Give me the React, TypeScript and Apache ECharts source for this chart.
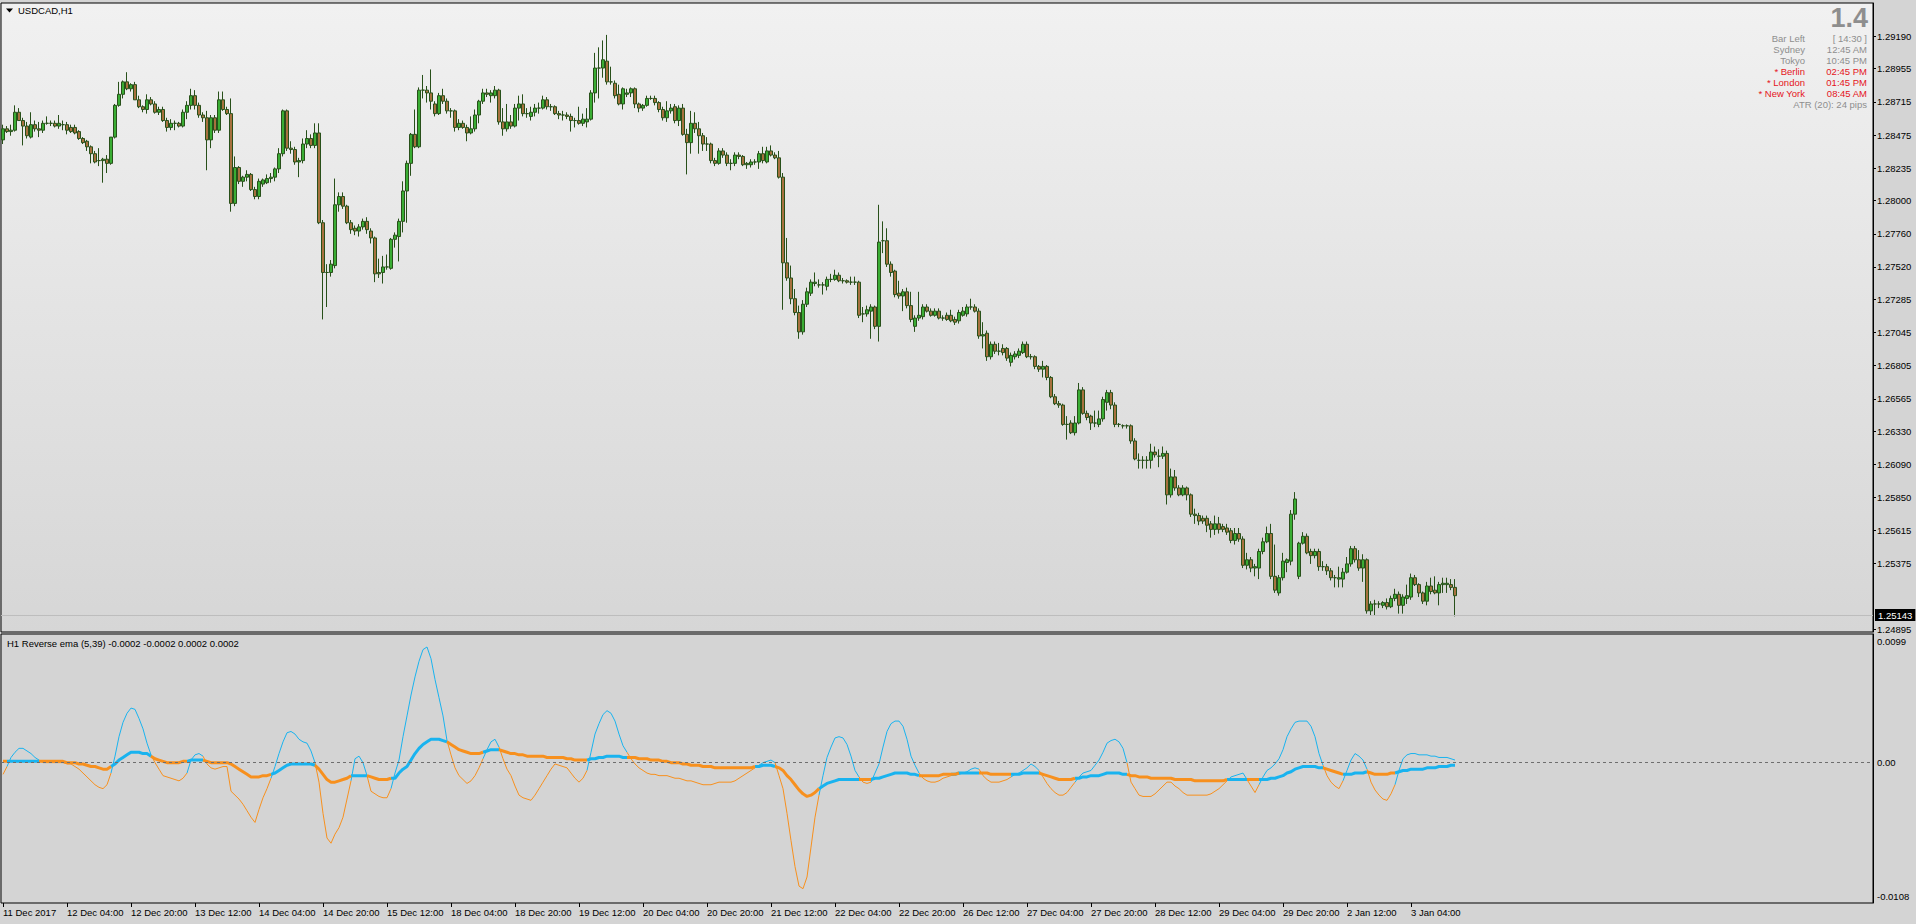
import React, { useEffect, useRef } from 'react';
import * as echarts from 'echarts';

const FONT = "'Liberation Sans', Arial, sans-serif";
const PIP = 0.0001;

// USDCAD H1 candles, prices in pips (0.0001)
const openPips = [
  12844,12852,12850,12851,12864,12858,12854,12846,12855,12852,12851,12856,12856,12856,12854,12855,12855,12853,12853,12850,
  12845,12843,12839,12834,12829,12829,12830,12827,12846,12869,12877,12886,12881,12884,12873,12868,12866,12873,12870,12864,
  12866,12858,12853,12856,12856,12854,12864,12869,12876,12869,12862,12860,12844,12860,12851,12873,12866,12863,12798,12824,
  12814,12817,12819,12808,12803,12812,12813,12816,12817,12823,12834,12865,12838,12837,12828,12829,12841,12845,12840,12849,
  12784,12748,12748,12753,12797,12803,12796,12784,12780,12778,12781,12785,12778,12773,12748,12748,12752,12751,12772,12774,
  12785,12807,12827,12848,12839,12880,12880,12878,12870,12863,12876,12872,12865,12865,12853,12856,12853,12849,12852,12862,
  12872,12878,12876,12876,12880,12857,12852,12857,12854,12867,12870,12863,12861,12864,12867,12867,12873,12868,12868,12863,
  12862,12862,12861,12858,12858,12856,12857,12859,12878,12896,12896,12901,12886,12885,12877,12870,12877,12878,12881,12870,
  12867,12869,12874,12874,12871,12866,12860,12865,12868,12858,12867,12848,12842,12856,12852,12847,12841,12841,12829,12827,
  12836,12833,12827,12827,12833,12832,12826,12826,12828,12828,12834,12828,12836,12833,12831,12817,12755,12744,12729,12719,
  12705,12725,12733,12740,12739,12739,12738,12743,12743,12746,12742,12742,12741,12741,12741,12718,12718,12720,12723,12709,
  12771,12771,12754,12749,12733,12731,12734,12724,12709,12715,12716,12723,12720,12717,12720,12715,12717,12717,12714,12713,
  12717,12718,12723,12723,12720,12702,12704,12687,12696,12691,12693,12693,12683,12687,12688,12690,12696,12687,12687,12680,
  12678,12680,12672,12658,12653,12652,12638,12639,12632,12639,12663,12646,12644,12639,12638,12642,12654,12661,12652,12638,
  12637,12637,12637,12626,12612,12612,12612,12612,12618,12615,12615,12617,12587,12600,12592,12587,12592,12587,12573,12572,
  12570,12570,12566,12562,12566,12564,12563,12561,12554,12559,12555,12536,12540,12534,12534,12546,12553,12559,12528,12516,
  12527,12538,12539,12573,12528,12552,12557,12546,12543,12546,12535,12535,12532,12527,12526,12526,12531,12537,12548,12540,
  12534,12540,12503,12508,12508,12507,12509,12506,12512,12515,12507,12512,12513,12527,12522,12516,12510,12521,12518,12516,
  12522,12522,12522,12520
];
const highPips = [
  12855,12854,12855,12869,12867,12860,12857,12864,12858,12857,12858,12861,12858,12858,12862,12858,12857,12855,12855,12851,
  12846,12844,12840,12836,12838,12831,12833,12846,12870,12886,12887,12893,12885,12886,12876,12869,12877,12875,12872,12868,
  12868,12860,12859,12858,12857,12866,12872,12881,12880,12871,12864,12865,12862,12862,12879,12879,12868,12874,12832,12825,
  12818,12822,12820,12810,12816,12816,12819,12820,12824,12838,12866,12866,12843,12839,12831,12845,12851,12848,12856,12856,
  12786,12754,12757,12816,12806,12806,12797,12786,12782,12783,12787,12788,12780,12774,12758,12760,12761,12773,12777,12787,
  12814,12829,12849,12866,12882,12891,12883,12895,12872,12878,12881,12874,12867,12866,12859,12858,12855,12861,12866,12873,
  12881,12881,12880,12883,12881,12867,12870,12862,12870,12876,12877,12867,12868,12870,12871,12876,12875,12870,12869,12865,
  12865,12864,12863,12860,12868,12863,12867,12880,12907,12911,12916,12920,12897,12887,12884,12882,12881,12882,12882,12871,
  12870,12876,12876,12876,12872,12868,12872,12870,12870,12869,12870,12852,12865,12864,12857,12849,12846,12842,12831,12838,
  12838,12835,12830,12835,12835,12833,12828,12830,12830,12836,12839,12839,12840,12835,12836,12820,12773,12753,12736,12724,
  12728,12737,12743,12748,12743,12741,12745,12747,12750,12748,12744,12743,12745,12745,12742,12723,12724,12725,12724,12797,
  12785,12780,12756,12750,12742,12736,12737,12734,12717,12734,12725,12725,12722,12722,12722,12717,12719,12721,12716,12721,
  12723,12725,12729,12725,12722,12712,12706,12698,12698,12697,12696,12694,12690,12691,12693,12698,12698,12689,12688,12681,
  12684,12681,12673,12660,12655,12653,12644,12641,12644,12668,12665,12648,12645,12648,12648,12658,12663,12663,12654,12639,
  12638,12638,12638,12628,12617,12615,12615,12624,12622,12620,12622,12619,12606,12605,12594,12594,12593,12588,12577,12574,
  12572,12572,12568,12572,12571,12566,12566,12563,12563,12563,12557,12545,12542,12537,12548,12556,12564,12566,12551,12529,
  12545,12541,12576,12589,12553,12560,12559,12548,12548,12548,12539,12537,12534,12529,12535,12534,12542,12550,12550,12547,
  12544,12541,12510,12511,12510,12510,12512,12514,12519,12517,12515,12522,12530,12529,12523,12517,12524,12527,12528,12524,
  12527,12527,12526,12526
];
const lowPips = [
  12841,12849,12847,12850,12858,12840,12845,12845,12850,12846,12849,12855,12854,12853,12852,12851,12848,12849,12848,12844,
  12841,12836,12827,12827,12825,12813,12820,12826,12845,12868,12874,12880,12879,12873,12867,12864,12863,12869,12863,12862,
  12857,12850,12851,12851,12853,12853,12859,12866,12866,12860,12857,12822,12838,12849,12849,12865,12862,12792,12796,12812,
  12810,12814,12807,12801,12801,12810,12812,12813,12814,12820,12832,12836,12834,12826,12817,12827,12838,12838,12838,12783,
  12714,12723,12745,12751,12792,12794,12783,12776,12775,12774,12779,12776,12769,12741,12744,12740,12750,12750,12766,12756,
  12777,12784,12818,12838,12838,12874,12871,12866,12861,12862,12870,12863,12860,12850,12851,12852,12843,12848,12850,12856,
  12870,12875,12871,12874,12855,12847,12850,12852,12853,12858,12861,12860,12858,12861,12863,12866,12866,12865,12862,12859,
  12858,12859,12850,12853,12855,12854,12853,12858,12871,12874,12889,12884,12884,12874,12869,12866,12875,12875,12867,12864,
  12865,12868,12873,12869,12864,12858,12857,12863,12856,12854,12847,12819,12834,12849,12834,12836,12836,12827,12825,12826,
  12831,12825,12822,12825,12830,12825,12823,12824,12826,12823,12827,12827,12832,12830,12816,12721,12742,12725,12717,12700,
  12703,12723,12731,12738,12737,12732,12735,12741,12742,12741,12740,12740,12739,12739,12715,12712,12716,12700,12707,12698,
  12762,12752,12745,12730,12729,12720,12722,12712,12705,12713,12714,12719,12716,12716,12714,12713,12713,12712,12710,12711,
  12716,12716,12721,12719,12700,12693,12684,12685,12689,12688,12688,12684,12680,12685,12686,12689,12686,12685,12678,12676,
  12672,12670,12657,12652,12650,12637,12627,12631,12630,12638,12645,12641,12634,12636,12636,12640,12648,12649,12636,12636,
  12635,12635,12624,12612,12606,12606,12606,12606,12614,12607,12613,12580,12585,12590,12586,12586,12583,12571,12566,12565,
  12566,12560,12556,12558,12559,12560,12558,12552,12551,12553,12534,12533,12531,12528,12526,12544,12552,12526,12516,12514,
  12525,12531,12536,12569,12526,12551,12544,12537,12541,12532,12532,12529,12525,12520,12520,12520,12530,12535,12538,12532,
  12524,12501,12500,12500,12505,12505,12504,12505,12510,12501,12501,12508,12511,12521,12513,12508,12507,12515,12515,12507,
  12516,12516,12518,12499
];
const closePips = [
  12852,12850,12851,12864,12858,12854,12847,12855,12852,12851,12856,12856,12856,12854,12856,12855,12851,12850,12849,12845,
  12842,12839,12834,12828,12829,12830,12827,12846,12869,12877,12886,12881,12884,12873,12868,12866,12873,12870,12864,12866,
  12858,12853,12856,12856,12854,12864,12869,12876,12869,12862,12860,12844,12860,12851,12873,12866,12863,12798,12824,12814,
  12817,12819,12808,12803,12814,12815,12816,12817,12823,12834,12865,12838,12837,12828,12829,12841,12845,12840,12849,12784,
  12748,12748,12754,12797,12803,12796,12784,12779,12778,12781,12785,12779,12773,12747,12747,12752,12752,12772,12775,12785,
  12807,12827,12848,12839,12880,12880,12878,12872,12863,12876,12872,12865,12865,12853,12856,12853,12849,12852,12862,12872,
  12878,12877,12878,12880,12857,12852,12857,12854,12867,12870,12863,12863,12864,12867,12867,12873,12868,12868,12863,12862,
  12862,12861,12858,12858,12856,12859,12859,12878,12896,12896,12902,12886,12886,12876,12870,12881,12878,12881,12870,12867,
  12869,12874,12874,12871,12866,12860,12865,12867,12858,12867,12848,12842,12856,12852,12847,12841,12841,12829,12827,12836,
  12833,12827,12827,12833,12832,12826,12827,12828,12828,12834,12829,12836,12833,12831,12817,12755,12744,12729,12719,12705,
  12725,12734,12741,12741,12739,12739,12743,12743,12746,12742,12742,12741,12741,12741,12717,12718,12721,12723,12709,12770,
  12771,12754,12748,12732,12731,12734,12724,12714,12715,12717,12723,12720,12717,12720,12715,12715,12714,12713,12712,12719,
  12720,12723,12723,12720,12702,12703,12687,12696,12691,12691,12690,12686,12688,12689,12691,12696,12687,12687,12680,12678,
  12680,12672,12658,12653,12652,12638,12638,12632,12639,12663,12646,12643,12639,12639,12642,12656,12661,12652,12638,12638,
  12637,12637,12626,12613,12612,12612,12612,12618,12616,12615,12617,12587,12600,12592,12587,12592,12587,12573,12572,12568,
  12568,12565,12562,12566,12562,12562,12560,12554,12559,12555,12536,12540,12534,12535,12546,12553,12559,12528,12518,12527,
  12539,12540,12573,12584,12552,12557,12545,12543,12546,12535,12535,12532,12527,12527,12527,12531,12537,12548,12540,12534,
  12540,12503,12508,12508,12508,12509,12506,12512,12515,12507,12513,12514,12527,12522,12516,12510,12521,12517,12516,12522,
  12523,12523,12520,12514
];

// Reverse ema (5,39) indicator, values in units of 0.0001
const fastLineE4 = [
  -9,-3,4,8,11,11,9,7,4,2, 0,0,0,0,0,0,-1,-1,-3,-5, -8,-11,-14,-17,-19,-20,-17,-8,5,20,
  31,38,42,41,34,26,15,6,0,-5, -10,-11,-12,-13,-14,-12,-8,2,6,7, 5,-1,-4,-5,-4,-3,-3,-22,-25,-28,
  -32,-37,-42,-46,-36,-27,-20,-12,-3,7, 16,23,24,22,18,16,15,9,0,-15, -39,-58,-62,-55,-50,-42,-28,-14,3,5,
  0,-10,-22,-24,-26,-27,-27,-20,-8,2, 20,36,52,66,78,87,89,80,64,50, 36,17,6,-4,-10,-13,-16,-14,-10,-4,
  3,10,16,18,12,3,-5,-10,-18,-25, -27,-28,-29,-25,-20,-15,-10,-5,-1,-2, -3,-4,-8,-12,-15,-12,-6,8,22,30,
  37,40,38,32,22,13,8,3,-1,-4, -6,-8,-9,-9,-10,-10,-10,-11,-12,-12, -13,-14,-14,-15,-16,-17,-17,-17,-16,-15,
  -15,-15,-15,-14,-12,-10,-8,-6,-4,-2, 0,1,2,0,-10,-20,-39,-60,-80,-95, -97,-88,-65,-42,-25,-10,4,12,19,20,
  19,14,5,-6,-11,-15,-16,-15,-8,-1, 12,24,30,32,32,28,18,5,-2,-8, -12,-14,-15,-15,-14,-12,-11,-10,-9,-9,
  -8,-7,-5,-4,-5,-10,-13,-15,-15,-15, -14,-13,-11,-9,-8,-6,-4,-1,-3,-6, -11,-16,-20,-23,-25,-25,-23,-19,-15,-11,
  -8,-7,-6,-2,2,8,15,17,18,16, 11,0,-15,-20,-25,-26,-26,-26,-24,-21, -18,-15,-15,-18,-20,-23,-25,-25,-25,-25,
  -25,-25,-24,-22,-20,-17,-14,-11,-10,-9, -8,-13,-18,-23,-17,-11,-6,-4,-1,3, 10,20,26,31,32,32,32,28,20,7,
  -2,-10,-15,-18,-20,-14,-6,2,7,5, 2,-5,-15,-21,-25,-28,-29,-24,-17,-6, 3,6,7,7,6,6,6,5,5,4,
  4,4,3,2
];
const slowLineE4 = [
  1,1,1,1,1,1,1,1,1,1, 1,1,1,1,1,1,0,0,0,-1, -1,-2,-3,-3,-4,-5,-5,-3,-1,2,
  4,6,8,8,8,7,7,5,3,2, 1,0,0,0,0,1,1,2,2,2, 2,1,0,0,0,0,0,-1,-3,-5,
  -7,-9,-11,-11,-11,-10,-10,-9,-8,-6, -4,-2,-1,-1,-1,-1,-1,-1,-2,-5, -9,-13,-15,-15,-14,-13,-12,-10,-10,-10,
  -10,-10,-11,-12,-13,-13,-13,-12,-12,-8, -5,-3,2,7,11,14,16,18,18,18, 17,16,14,12,10,9,8,7,7,7,
  8,9,10,10,10,9,8,7,7,6, 6,5,5,5,5,5,4,4,4,4, 4,3,3,2,2,2,2,3,3,4,
  4,5,5,5,5,4,4,4,4,3, 3,3,2,2,2,1,1,0,0,0, -1,-1,-2,-2,-2,-3,-3,-3,-4,-4,
  -4,-4,-4,-4,-4,-4,-4,-4,-3,-3, -2,-2,-2,-3,-4,-6,-10,-13,-17,-21, -24,-26,-25,-23,-20,-18,-16,-15,-14,-13,
  -13,-13,-13,-13,-13,-13,-13,-13,-12,-12, -11,-10,-9,-8,-8,-8,-8,-9,-9,-10, -10,-10,-10,-10,-10,-9,-9,-9,-9,-8,
  -8,-8,-8,-8,-8,-8,-8,-9,-9,-9, -9,-9,-9,-9,-9,-8,-8,-8,-8,-8, -9,-10,-11,-12,-13,-13,-13,-13,-12,-12,
  -11,-11,-10,-10,-10,-9,-8,-8,-8,-8, -9,-9,-10,-10,-11,-11,-11,-12,-12,-12, -12,-12,-12,-13,-13,-13,-13,-13,-14,-14,
  -14,-14,-14,-14,-14,-14,-13,-13,-13,-13, -13,-13,-13,-13,-13,-13,-13,-12,-12,-11, -10,-8,-7,-5,-4,-3,-3,-3,-3,-4,
  -4,-5,-6,-7,-8,-9,-9,-9,-8,-8, -8,-7,-8,-9,-9,-9,-9,-8,-8,-7, -6,-6,-5,-5,-5,-5,-4,-4,-4,-3,
  -3,-3,-2,-2
];

const timeTickLabels = [
  '11 Dec 2017','12 Dec 04:00','12 Dec 20:00','13 Dec 12:00','14 Dec 04:00','14 Dec 20:00','15 Dec 12:00',
  '18 Dec 04:00','18 Dec 20:00','19 Dec 12:00','20 Dec 04:00','20 Dec 20:00','21 Dec 12:00','22 Dec 04:00',
  '22 Dec 20:00','26 Dec 12:00','27 Dec 04:00','27 Dec 20:00','28 Dec 12:00','29 Dec 04:00','29 Dec 20:00',
  '2 Jan 12:00','3 Jan 04:00'
];
const BARS_PER_TICK = 16;
const priceTicks = [1.2919,1.28955,1.28715,1.28475,1.28235,1.28,1.2776,1.2752,1.27285,1.27045,1.26805,1.26565,1.2633,1.2609,1.2585,1.25615,1.25375,1.24895];
const currentPrice = 1.25143;
const indicatorLabels = [0.0099, 0, -0.0108];
const TOTAL_SLOTS = 468;

const sessionRows = [
  { name: 'Bar Left', value: '[ 14:30 ]', red: false },
  { name: 'Sydney', value: '12:45 AM', red: false },
  { name: 'Tokyo', value: '10:45 PM', red: false },
  { name: '* Berlin', value: '02:45 PM', red: true },
  { name: '* London', value: '01:45 PM', red: true },
  { name: '* New York', value: '08:45 AM', red: true },
];

const BLUE = '#19b3ef';
const ORANGE = '#f7901e';
const GRAY_TXT = '#8e8e8e';
const RED_TXT = '#e5141b';

function buildOption() {
  const n = Math.min(openPips.length, highPips.length, lowPips.length, closePips.length);
  const cats = Array.from({ length: TOTAL_SLOTS }, (_, i) => String(i));
  const candles: any[] = [];
  for (let i = 0; i < n; i++) {
    candles.push([
      +(openPips[i] * PIP).toFixed(5),
      +(closePips[i] * PIP).toFixed(5),
      +(lowPips[i] * PIP).toFixed(5),
      +(highPips[i] * PIP).toFixed(5),
    ]);
  }
  const m = Math.min(fastLineE4.length, slowLineE4.length);
  const fast = fastLineE4.slice(0, m).map((v) => +(v * PIP).toFixed(5));
  const slow = slowLineE4.slice(0, m).map((v) => +(v * PIP).toFixed(5));
  const up = fast.map((v, i) => v >= slow[i]);
  const split = (src: number[], wantUp: boolean) =>
    src.map((v, i) => (up[i] === wantUp || (i + 1 < src.length && up[i + 1] === wantUp) ? v : null));

  const tickShown = (idx: number) => idx % BARS_PER_TICK === 0 && idx / BARS_PER_TICK < timeTickLabels.length;

  const lineBase = {
    type: 'line',
    xAxisIndex: 1,
    yAxisIndex: 1,
    showSymbol: false,
    symbol: 'none',
    connectNulls: false,
    silent: true,
  };

  const graphics: any[] = [
    { type: 'polygon', shape: { points: [[6, 8.5], [13, 8.5], [9.5, 12.5]] }, style: { fill: '#000' } },
    { type: 'text', x: 18, y: 10.5, style: { text: 'USDCAD,H1', fill: '#000', font: `9.5px ${FONT}`, verticalAlign: 'middle' } },
    { type: 'text', x: 1868, y: 18, style: { text: '1.4', fill: GRAY_TXT, font: `bold 27px ${FONT}`, align: 'right', verticalAlign: 'middle' } },
    { type: 'text', x: 7, y: 643.7, style: { text: 'H1 Reverse ema (5,39) -0.0002 -0.0002 0.0002 0.0002', fill: '#000', font: `9.5px ${FONT}`, verticalAlign: 'middle' } },
  ];
  sessionRows.forEach((r, k) => {
    const y = 38.8 + k * 10.95;
    const fill = r.red ? RED_TXT : GRAY_TXT;
    graphics.push({ type: 'text', x: 1805, y, style: { text: r.name, fill, font: `9.5px ${FONT}`, align: 'right', verticalAlign: 'middle' } });
    graphics.push({ type: 'text', x: 1867, y, style: { text: r.value, fill, font: `9.5px ${FONT}`, align: 'right', verticalAlign: 'middle' } });
  });
  graphics.push({ type: 'text', x: 1867, y: 104.5, style: { text: 'ATR (20): 24 pips', fill: GRAY_TXT, font: `9.5px ${FONT}`, align: 'right', verticalAlign: 'middle' } });
  const indTop = 634, indH = 269;
  const indMax = 0.0099, indMin = -0.0108;
  indicatorLabels.forEach((v) => {
    let y = indTop + ((indMax - v) / (indMax - indMin)) * indH;
    let va = 'middle';
    if (v === indMax) { y = indTop + 2; va = 'top'; }
    if (v === indMin) { y = indTop + indH - 2; va = 'bottom'; }
    graphics.push({ type: 'text', x: 1877, y, style: { text: v === 0 ? '0.00' : v.toFixed(4), fill: '#000', font: `9.5px ${FONT}`, verticalAlign: va } });
  });

  return {
    animation: false,
    backgroundColor: '#d4d4d4',
    textStyle: { fontFamily: FONT },
    grid: [
      {
        left: 1, top: 3, width: 1872, height: 629, show: true, borderColor: '#000', borderWidth: 1,
        backgroundColor: new echarts.graphic.LinearGradient(0, 0, 0, 1, [
          { offset: 0, color: '#f1f1f1' },
          { offset: 1, color: '#d6d6d6' },
        ]),
      },
      { left: 1, top: indTop, width: 1872, height: indH, show: true, borderColor: '#000', borderWidth: 1, backgroundColor: '#d4d4d4' },
    ],
    xAxis: [
      { type: 'category', gridIndex: 0, data: cats, boundaryGap: true, show: false },
      {
        type: 'category', gridIndex: 1, data: cats, boundaryGap: true, position: 'bottom',
        axisLine: { show: false, onZero: false },
        axisTick: { show: true, alignWithLabel: true, interval: (i: number) => tickShown(i), length: 4, lineStyle: { color: '#000' } },
        axisLabel: {
          interval: (i: number) => tickShown(i),
          formatter: (_v: string, i: number) => timeTickLabels[i / BARS_PER_TICK] ?? '',
          align: 'left', margin: 4, color: '#000', fontSize: 9.5, fontFamily: FONT,
        },
        splitLine: { show: false },
      },
    ],
    yAxis: [
      {
        type: 'value', gridIndex: 0, position: 'right', min: 1.24877, max: 1.29431, scale: true,
        axisLine: { show: true, lineStyle: { color: '#000' } },
        axisTick: { show: true, customValues: priceTicks, length: 3, lineStyle: { color: '#000' } },
        axisLabel: { customValues: priceTicks, formatter: (v: number) => v.toFixed(5), color: '#000', fontSize: 9.5, fontFamily: FONT, margin: 4 },
        splitLine: { show: false },
      },
      {
        type: 'value', gridIndex: 1, position: 'right', min: indMin, max: indMax,
        axisLine: { show: true, lineStyle: { color: '#000' } },
        axisTick: { show: false },
        axisLabel: { show: false },
        splitLine: { show: false },
      },
    ],
    series: [
      {
        type: 'candlestick', xAxisIndex: 0, yAxisIndex: 0, data: candles, barWidth: 3,
        itemStyle: { color: '#3aad34', color0: '#a7713e', borderColor: '#28501a', borderColor0: '#28501a', borderWidth: 1 },
        markLine: {
          silent: true, symbol: 'none', animation: false,
          lineStyle: { color: '#bdbdbd', type: 'solid', width: 1 },
          label: { show: true, position: 'end', formatter: currentPrice.toFixed(5), backgroundColor: '#000', color: '#fff', padding: [1, 3, 1, 3], fontSize: 9.5, fontFamily: FONT, distance: 2 },
          data: [{ yAxis: currentPrice }],
        },
      },
      { ...lineBase, name: 'fastUp', data: split(fast, true), lineStyle: { color: BLUE, width: 1 }, z: 3 },
      { ...lineBase, name: 'fastDown', data: split(fast, false), lineStyle: { color: ORANGE, width: 1 }, z: 3,
        markLine: {
          silent: true, symbol: 'none', animation: false,
          lineStyle: { color: '#6e6e6e', type: [3, 3], width: 1 },
          label: { show: false },
          data: [{ yAxis: 0 }],
        },
      },
      { ...lineBase, name: 'slowUp', data: split(slow, true), lineStyle: { color: BLUE, width: 3 }, z: 4 },
      { ...lineBase, name: 'slowDown', data: split(slow, false), lineStyle: { color: ORANGE, width: 3 }, z: 4 },
    ],
    graphic: graphics,
  };
}

export default function App() {
  const ref = useRef<HTMLDivElement>(null);
  useEffect(() => {
    if (!ref.current) return;
    const chart = echarts.init(ref.current, null, { renderer: 'svg' });
    chart.setOption(buildOption() as any);
    return () => chart.dispose();
  }, []);
  return (
    <div
      ref={ref}
      style={{ position: 'fixed', left: 0, top: 0, width: 1916, height: 924, background: '#d4d4d4' }}
    />
  );
}
